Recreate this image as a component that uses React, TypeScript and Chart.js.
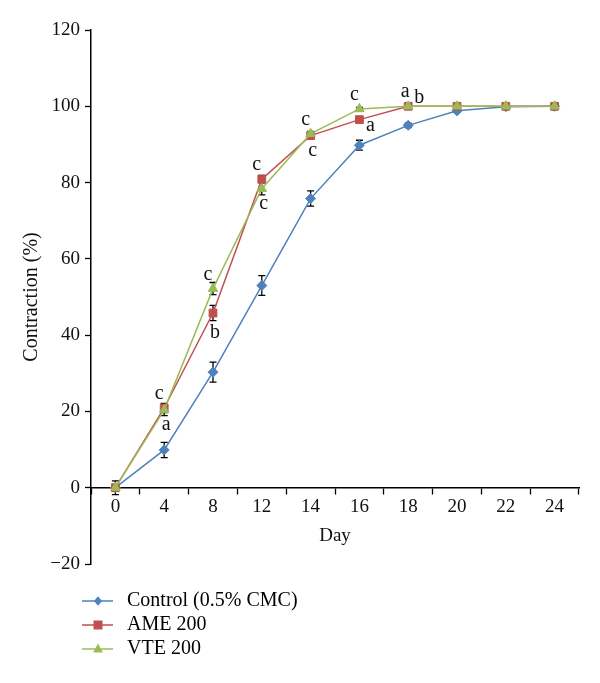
import React, { useEffect, useRef } from "react";
import { Chart, registerables } from "chart.js";

Chart.register(...registerables);

const days = ["0", "4", "8", "12", "14", "16", "18", "20", "22", "24"];
const controlValues = [0, 9.9, 30.3, 53, 75.8, 89.8, 95, 98.8, 99.9, 100];
const controlErrors = [1.8, 2, 2.6, 2.6, 2, 1.3, 0.6, 0.4, 0, 0];
const ameValues = [0, 20.9, 45.8, 80.9, 92.3, 96.5, 100, 100, 100, 100];
const ameErrors = [0.8, 1.2, 2, 1, 0.6, 0.5, 0, 0, 0, 0];
const vteValues = [0, 20.4, 52.2, 78.4, 92.8, 99.3, 100, 100, 100, 100];
const vteErrors = [0.8, 1.5, 1.6, 1.6, 0.6, 0.4, 0, 0, 0, 0];
const seriesNames = ["Control (0.5% CMC)", "AME 200", "VTE 200"];
// [series index, category index, letter, placement]
const letters: [number, number, string, string][] = [
  [1, 1, "c", "above"],
  [2, 1, "a", "below"],
  [2, 2, "c", "above"],
  [1, 2, "b", "below"],
  [1, 3, "c", "above"],
  [2, 3, "c", "below"],
  [2, 4, "c", "above"],
  [1, 4, "c", "below"],
  [2, 5, "c", "above"],
  [1, 5, "a", "right"],
  [1, 6, "a", "aboveLeft"],
  [2, 6, "b", "aboveRight"],
];

const COLORS = ["#4F81BD", "#C0504D", "#9BBB59"];
const STYLES = ["rectRot", "rect", "triangle"];
const FONT = "'Liberation Serif', 'Times New Roman', serif";

export default function App() {
  const ref = useRef<HTMLCanvasElement | null>(null);
  useEffect(() => {
    document.body.style.margin = "0";
    const errs = [controlErrors, ameErrors, vteErrors];

    function drawMarker(ctx: CanvasRenderingContext2D, style: string, x: number, y: number, r: number) {
      ctx.beginPath();
      if (style === "rectRot") {
        ctx.moveTo(x, y - r * 1.2);
        ctx.lineTo(x + r, y);
        ctx.lineTo(x, y + r * 1.2);
        ctx.lineTo(x - r, y);
      } else if (style === "rect") {
        ctx.rect(x - r, y - r, 2 * r, 2 * r);
      } else {
        ctx.moveTo(x, y - r * 1.2);
        ctx.lineTo(x + r * 1.1, y + r * 0.8);
        ctx.lineTo(x - r * 1.1, y + r * 0.8);
      }
      ctx.closePath();
      ctx.fill();
    }

    const errorBars = {
      id: "errorBars",
      beforeDatasetsDraw(chart: any) {
        const ctx = chart.ctx;
        const y = chart.scales.y;
        ctx.save();
        ctx.strokeStyle = "#000";
        ctx.lineWidth = 1.3;
        chart.data.datasets.forEach((ds: any, di: number) => {
          const meta = chart.getDatasetMeta(di);
          meta.data.forEach((pt: any, i: number) => {
            const e = errs[di][i];
            if (!e) return;
            const v = ds.data[i];
            const top = y.getPixelForValue(v + e);
            const bot = y.getPixelForValue(v - e);
            const x = pt.x;
            ctx.beginPath();
            ctx.moveTo(x, top);
            ctx.lineTo(x, bot);
            ctx.moveTo(x - 3.5, top);
            ctx.lineTo(x + 3.5, top);
            ctx.moveTo(x - 3.5, bot);
            ctx.lineTo(x + 3.5, bot);
            ctx.stroke();
          });
        });
        ctx.restore();
      },
    };

    const letterPlugin = {
      id: "letters",
      afterDatasetsDraw(chart: any) {
        const ctx = chart.ctx;
        ctx.save();
        ctx.fillStyle = "#111";
        ctx.font = `20px ${FONT}`;
        ctx.textAlign = "center";
        ctx.textBaseline = "middle";
        letters.forEach(([si, ci, t, place]) => {
          const pt = chart.getDatasetMeta(si).data[ci];
          let dx = 0, dy = 0;
          if (place === "above") { dx = -5; dy = -14; }
          else if (place === "below") { dx = 2; dy = 15; }
          else if (place === "right") { dx = 11; dy = 6; }
          else if (place === "aboveLeft") { dx = -3; dy = -15; }
          else if (place === "aboveRight") { dx = 11; dy = -9; }
          if (si === 1 && ci === 2) dy = 20;
          ctx.fillText(t, pt.x + dx, pt.y + dy);
        });
        ctx.restore();
      },
    };

    const legendPlugin = {
      id: "customLegend",
      afterDraw(chart: any) {
        const ctx = chart.ctx;
        ctx.save();
        const rows = [601, 625, 649];
        seriesNames.forEach((name, i) => {
          const yy = rows[i];
          ctx.strokeStyle = COLORS[i];
          ctx.lineWidth = 1.5;
          ctx.beginPath();
          ctx.moveTo(82, yy);
          ctx.lineTo(113, yy);
          ctx.stroke();
          ctx.fillStyle = COLORS[i];
          drawMarker(ctx, STYLES[i], 98, yy, i === 0 ? 4 : 4.5);
          ctx.fillStyle = "#000";
          ctx.font = `20px ${FONT}`;
          ctx.textAlign = "left";
          ctx.textBaseline = "middle";
          ctx.fillText(name, 127, yy);
        });
        ctx.restore();
      },
    };

    const allValues = [controlValues, ameValues, vteValues];
    const chart = new Chart(ref.current!, {
      type: "line",
      data: {
        labels: days,
        datasets: allValues.map((vals, i) => ({
          label: seriesNames[i],
          data: vals,
          borderColor: COLORS[i],
          backgroundColor: COLORS[i],
          pointBackgroundColor: COLORS[i],
          pointBorderColor: COLORS[i],
          pointStyle: STYLES[i] as any,
          pointRadius: i === 0 ? 5 : 5.5,
          pointBorderWidth: 1,
          borderWidth: 1.5,
          tension: 0,
          order: 3 - i,
        })),
      },
      options: {
        animation: false,
        responsive: false,
        maintainAspectRatio: false,
        layout: { padding: { top: 30, right: 21, bottom: 119, left: 0 } },
        plugins: {
          legend: { display: false },
          tooltip: { enabled: false },
        },
        scales: {
          x: {
            type: "category",
            position: { y: 0 } as any,
            offset: true,
            grid: {
              offset: true,
              drawOnChartArea: false,
              drawTicks: true,
              tickLength: 6,
              tickColor: "#000",
              tickWidth: 1.3,
            },
            border: { display: true, color: "#000", width: 1.5 },
            ticks: {
              color: "#111",
              font: { family: FONT, size: 19 },
              padding: 2,
              maxRotation: 0,
              autoSkip: false,
            },
            title: {
              display: true,
              text: "Day",
              color: "#111",
              font: { family: FONT, size: 19 },
              padding: { top: 4, bottom: 0 },
            },
          },
          y: {
            min: -20,
            max: 120,
            position: "left",
            grid: {
              drawOnChartArea: false,
              drawTicks: true,
              tickLength: 6,
              tickColor: "#000",
              tickWidth: 1.3,
            },
            border: { display: true, color: "#000", width: 1.5 },
            ticks: {
              stepSize: 20,
              color: "#111",
              font: { family: FONT, size: 19 },
              padding: 5,
              callback: (v: any) => String(v).replace("-", "\u2212"),
            },
            title: {
              display: true,
              text: "Contraction (%)",
              color: "#111",
              font: { family: FONT, size: 20 },
              padding: { top: 20, bottom: 0 },
            },
            afterFit: (scale: any) => {
              scale.width = 91;
            },
          },
        },
      },
      plugins: [errorBars, letterPlugin, legendPlugin],
    });
    return () => chart.destroy();
  }, []);
  return (
    <div style={{ width: 600, height: 683, background: "#fff" }}>
      <canvas ref={ref} width={600} height={683} style={{ display: "block" }} />
    </div>
  );
}
